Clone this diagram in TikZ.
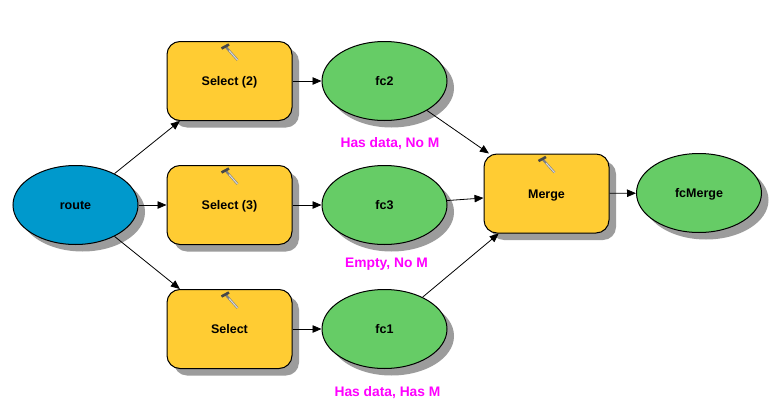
\documentclass[tikz,border=0pt]{standalone}
\usepackage{fontspec}
\setmainfont{Liberation Sans}
\usetikzlibrary{arrows.meta,shadows,shapes.geometric}
\definecolor{toolfill}{HTML}{FFCC33}
\definecolor{datafill}{HTML}{66CC66}
\definecolor{inputfill}{HTML}{0099CC}
\definecolor{shadowgray}{HTML}{9C9C9C}
\definecolor{notepink}{HTML}{FF00FF}
\tikzset{
  modelshadow/.style={drop shadow={shadow xshift=7pt,shadow yshift=-7pt,fill=shadowgray,opacity=1}},
  toolbox/.style={draw=black,line width=1pt,fill=toolfill,rounded corners=13pt,minimum width=125pt,minimum height=79pt,inner sep=0pt,font=\fontsize{12.5}{14}\selectfont\bfseries,text height=10pt,text depth=1pt,modelshadow},
  dataoval/.style={ellipse,draw=black,line width=1pt,fill=datafill,minimum width=125pt,minimum height=79pt,inner sep=0pt,font=\fontsize{12.5}{14}\selectfont\bfseries,text height=10pt,text depth=1pt,modelshadow},
  inputoval/.style={dataoval,fill=inputfill},
  notetext/.style={text=notepink,font=\fontsize{13.8}{15}\selectfont\bfseries,inner sep=0pt,text height=10pt,text depth=1pt},
  flow/.style={draw=black,line width=.8pt,-{Triangle[length=9pt,width=7.5pt]}},
  hammerhandle/.style={line width=2.2pt,draw=black!50},
  hammergrip/.style={line width=1pt,draw=white!85!black},
  hammerhead/.style={line width=2.6pt,draw=black!72}
}
\newcommand{\hammerat}[2]{%
  \begin{scope}[shift={(#1,#2)}]
    \draw[hammerhandle] (0,0) -- (12.5,14);
    \draw[hammergrip] (4,4.5) -- (12.5,14);
    \draw[hammerhead] (-3.5,2.5) -- (4,-1.5);
  \end{scope}}
\begin{document}
\begin{tikzpicture}[x=1pt,y=-1pt]
\useasboundingbox[fill=white] (0,0) rectangle (772,407);
\node[inputoval] (route) at (75.5,205) {route};
\node[toolbox] (sel2) at (229.5,81) {Select (2)};
\node[toolbox] (sel3) at (229.5,205) {Select (3)};
\node[toolbox] (sel1) at (229.5,329) {Select};
\node[dataoval] (fc2) at (384.5,81) {fc2};
\node[dataoval] (fc3) at (384.5,205) {fc3};
\node[dataoval] (fc1) at (384.5,329) {fc1};
\node[toolbox] (merge) at (546.5,193.5) {Merge};
\node[dataoval] (fcm) at (699,193) {fcMerge};
\hammerat{225}{46}
\hammerat{225}{170}
\hammerat{225}{294}
\hammerat{542}{158.5}
\node[notetext] (n2) at (390,143) {Has data, No M};
\node[notetext] (n3) at (386.5,263) {Empty, No M};
\node[notetext] (n1) at (387.5,392) {Has data, Has M};
\draw[flow] (route) -- (sel2);
\draw[flow] (route) -- (sel3);
\draw[flow] (route) -- (sel1);
\draw[flow] (sel2) -- (fc2);
\draw[flow] (sel3) -- (fc3);
\draw[flow] (sel1) -- (fc1);
\draw[flow] (fc2) -- (merge);
\draw[flow] (fc3) -- (merge);
\draw[flow] (fc1) -- (merge);
\draw[flow] (merge) -- (fcm);
\end{tikzpicture}
\end{document}
